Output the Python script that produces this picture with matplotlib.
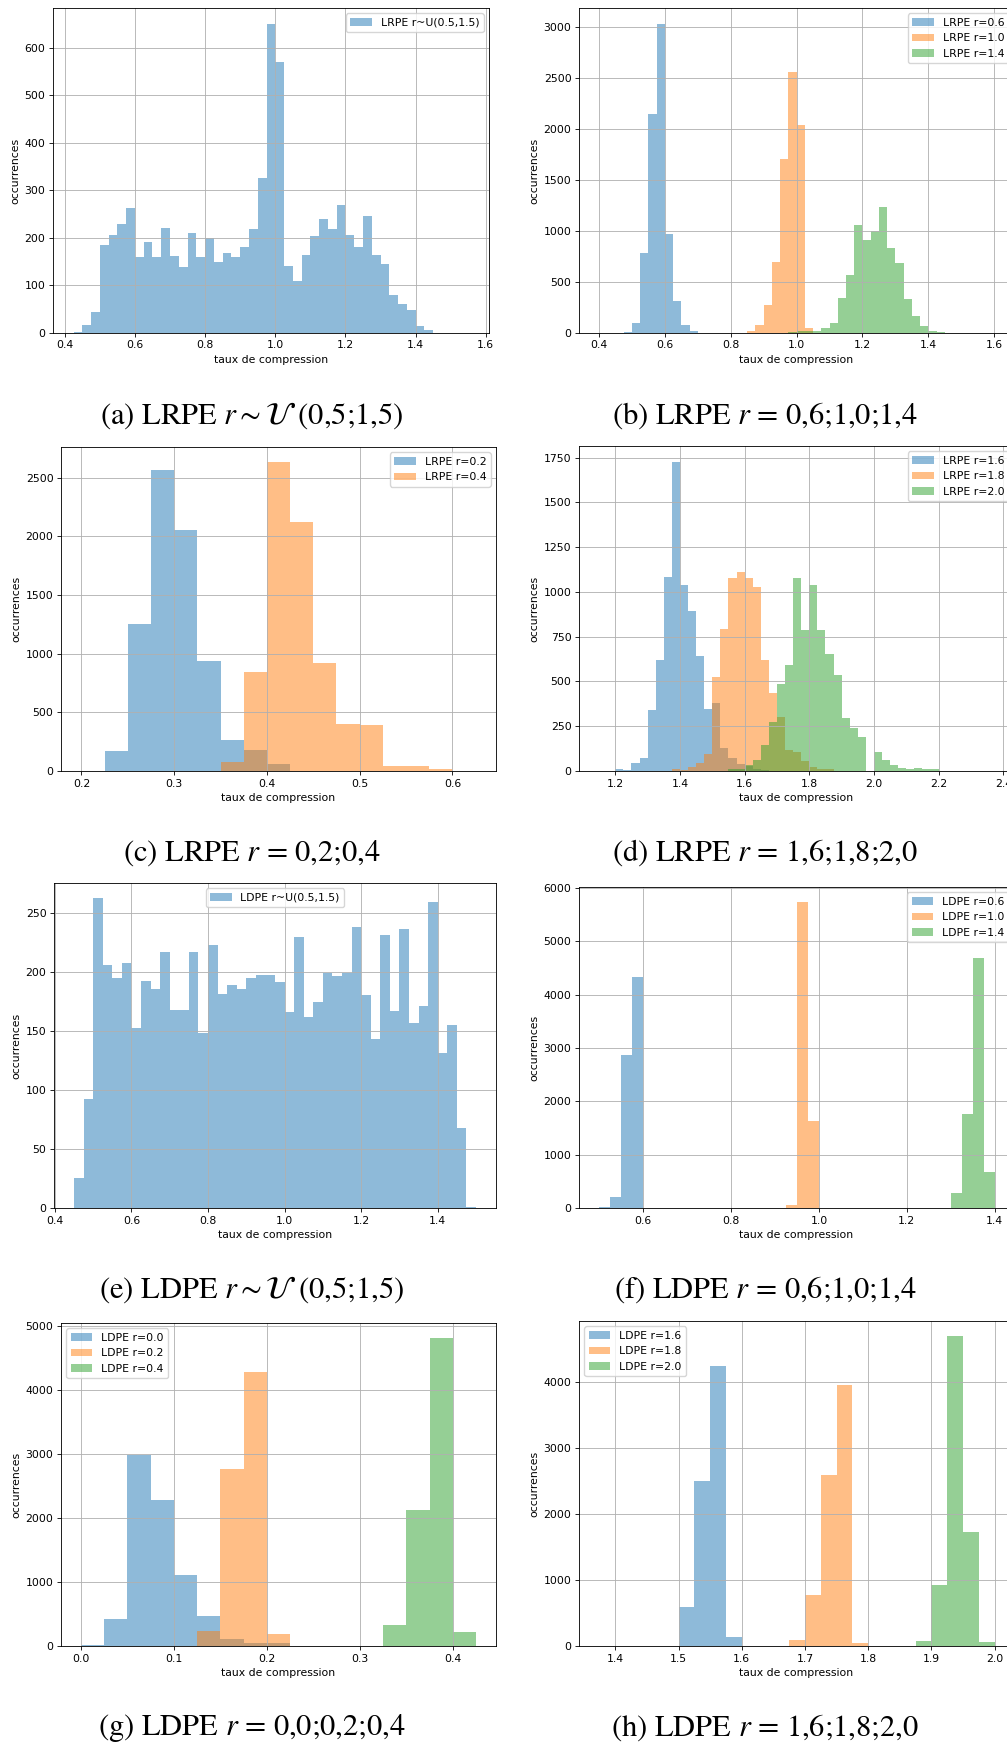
import numpy as np
import matplotlib
matplotlib.use("Agg")
import matplotlib.pyplot as plt
from matplotlib.ticker import MultipleLocator

plt.rcParams["mathtext.fontset"] = "stix"

BIN = 0.025

# (a) LRPE r~U(0.5,1.5)
a_start = 0.425
a_counts = [2, 17, 45, 186, 206, 230, 264, 159, 192, 159, 222, 163, 138, 211, 159,
            199, 150, 169, 159, 180, 218, 327, 651, 571, 140, 110, 165, 205, 239, 218,
            270, 207, 180, 247, 165, 146, 81, 62, 49, 15, 7, 1, 1, 0, 1]

# (b) LRPE r=0.6 / 1.0 / 1.4
b_blue_start = 0.475
b_blue = [10, 101, 785, 2149, 3036, 972, 314, 79, 20, 3]
b_orange_start = 0.85
b_orange = [20, 82, 278, 697, 1708, 2565, 2044, 49, 3]
b_green_start = 0.975
b_green = [5, 15, 15, 20, 52, 101, 347, 572, 1063, 916, 998, 1240, 831, 690, 337,
           170, 72, 23, 8]

# (c) LRPE r=0.2 / 0.4
c_blue_start = 0.225
c_blue = [167, 1249, 2568, 2049, 934, 261, 176, 57]
c_orange_start = 0.35
c_orange = [74, 840, 2628, 2125, 917, 397, 389, 40, 40, 14]

# (d) LRPE r=1.6 / 1.8 / 2.0
d_blue_start = 1.2
d_blue = [13, 7, 43, 71, 340, 619, 1084, 1728, 1039, 894, 642, 345, 379, 127, 71,
          37, 28, 13, 5]
d_orange_start = 1.375
d_orange = [13, 8, 24, 43, 93, 524, 793, 1078, 1112, 1078, 1028, 619, 435, 300,
            116, 104, 54, 20, 10, 10]
d_green_start = 1.55
d_green = [10, 13, 32, 60, 144, 272, 485, 591, 1078, 787, 1039, 787, 653, 535,
           295, 239, 188, 0, 104, 60, 32, 15, 9, 15, 9, 9]

# (e) LDPE r~U(0.5,1.5)
e_start = 0.45
e_counts = [25, 92, 262, 206, 195, 207, 152, 192, 185, 217, 168, 168, 217, 148,
            223, 181, 189, 185, 195, 197, 197, 191, 166, 229, 162, 174, 199, 196,
            199, 238, 180, 143, 231, 167, 236, 157, 171, 259, 131, 155, 68, 1]

# (f) LDPE r=0.6 / 1.0 / 1.4
f_blue_start = 0.5
f_blue = [19, 206, 2875, 4338]
f_orange_start = 0.925
f_orange = [56, 5744, 1638]
f_green_start = 1.3
f_green = [288, 1769, 4694, 681]

# (g) LDPE r=0.0 / 0.2 / 0.4
g_blue_start = 0.0
g_blue = [10, 417, 2982, 2278, 1105, 464, 104, 42, 42]
g_orange_start = 0.125
g_orange = [229, 2763, 4280, 182]
g_green_start = 0.325
g_green = [323, 2122, 4812, 214]

# (h) LDPE r=1.6 / 1.8 / 2.0
h_blue_start = 1.375
h_blue = [3, 0, 0, 3, 0, 587, 2501, 4248, 132]
h_orange_start = 1.625
h_orange = [5, 5, 86, 770, 2592, 3959, 51]
h_green_start = 1.85
h_green = [3, 71, 921, 4689, 1727, 56]

captions = [
    r"(a) LRPE $r \sim \mathcal{U}$ (0,5;1,5)",
    r"(b) LRPE $r$ = 0,6;1,0;1,4",
    r"(c) LRPE $r$ = 0,2;0,4",
    r"(d) LRPE $r$ = 1,6;1,8;2,0",
    r"(e) LDPE $r \sim \mathcal{U}$ (0,5;1,5)",
    r"(f) LDPE $r$ = 0,6;1,0;1,4",
    r"(g) LDPE $r$ = 0,0;0,2;0,4",
    r"(h) LDPE $r$ = 1,6;1,8;2,0",
]

COLORS = ["tab:blue", "tab:orange", "tab:green"]
FS = 7.8
W, H = 1007, 1742

fig = plt.figure(figsize=(W / 100, H / 100), dpi=100)


def make_axes(left, right, top, bottom):
    return fig.add_axes([left / W, 1 - bottom / H, (right - left) / W, (bottom - top) / H])


def draw(ax, series, xlim, ylim, xstep, ystep, loc):
    for i, (start, counts, label) in enumerate(series):
        counts = np.array(counts, dtype=float)
        edges = start + BIN * np.arange(len(counts) + 1)
        centers = edges[:-1] + BIN / 2
        ax.hist(centers, bins=edges, weights=counts, alpha=0.5,
                color=COLORS[i], label=label)
    ax.set_xlim(*xlim)
    ax.set_ylim(*ylim)
    ax.xaxis.set_major_locator(MultipleLocator(xstep))
    ax.yaxis.set_major_locator(MultipleLocator(ystep))
    ax.grid(True, color="#b0b0b0", linewidth=0.62)
    ax.tick_params(labelsize=FS, length=2.7, width=0.6, pad=2.7)
    for s in ax.spines.values():
        s.set_linewidth(0.62)
    ax.set_xlabel("taux de compression", fontsize=FS, labelpad=3)
    ax.set_ylabel("occurrences", fontsize=FS, labelpad=3)
    ax.legend(loc=loc, fontsize=FS)


ax = make_axes(53, 489, 8, 333)
draw(ax, [(a_start, a_counts, "LRPE r~U(0.5,1.5)")],
     (0.3665, 1.609), (0, 684), 0.2, 100, "upper right")

ax = make_axes(579, 1014, 8, 333)
draw(ax, [(b_blue_start, b_blue, "LRPE r=0.6"),
          (b_orange_start, b_orange, "LRPE r=1.0"),
          (b_green_start, b_green, "LRPE r=1.4")],
     (0.3393, 1.66), (0, 3189), 0.2, 500, "upper right")

ax = make_axes(61, 496, 447, 771)
draw(ax, [(c_blue_start, c_blue, "LRPE r=0.2"),
          (c_orange_start, c_orange, "LRPE r=0.4")],
     (0.178, 0.647), (0, 2760), 0.1, 500, "upper right")

ax = make_axes(579, 1014, 446, 771)
draw(ax, [(d_blue_start, d_blue, "LRPE r=1.6"),
          (d_orange_start, d_orange, "LRPE r=1.8"),
          (d_green_start, d_green, "LRPE r=2.0")],
     (1.0877, 2.433), (0, 1815), 0.2, 250, "upper right")

ax = make_axes(54, 496, 883, 1208)
draw(ax, [(e_start, e_counts, "LDPE r~U(0.5,1.5)")],
     (0.3975, 1.5525), (0, 275.1), 0.2, 50, "upper center")

ax = make_axes(579, 1014, 887, 1208)
draw(ax, [(f_blue_start, f_blue, "LDPE r=0.6"),
          (f_orange_start, f_orange, "LDPE r=1.0"),
          (f_green_start, f_green, "LDPE r=1.4")],
     (0.4535, 1.4444), (0, 6020), 0.2, 1000, "upper right")

ax = make_axes(61, 496, 1323, 1646)
draw(ax, [(g_blue_start, g_blue, "LDPE r=0.0"),
          (g_orange_start, g_orange, "LDPE r=0.2"),
          (g_green_start, g_green, "LDPE r=0.4")],
     (-0.02125, 0.44625), (0, 5053), 0.1, 1000, "upper left")

ax = make_axes(579, 1014, 1321, 1646)
draw(ax, [(h_blue_start, h_blue, "LDPE r=1.6"),
          (h_orange_start, h_orange, "LDPE r=1.8"),
          (h_green_start, h_green, "LDPE r=2.0")],
     (1.3426, 2.0305), (0, 4923), 0.1, 1000, "upper left")

cap_x = [252, 765]
cap_y = [416, 853, 1290, 1728]
for i, text in enumerate(captions):
    fig.text(cap_x[i % 2] / W, 1 - cap_y[i // 2] / H, text, ha="center", va="center",
             fontsize=22, family="STIXGeneral")

fig.savefig("out.png", dpi=100)
